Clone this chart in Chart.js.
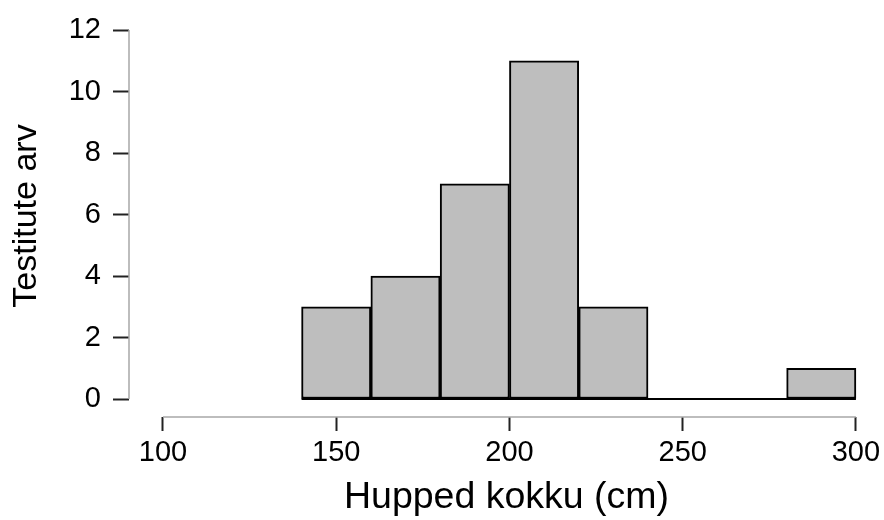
<!DOCTYPE html>
<html>
<head>
<meta charset="utf-8">
<script src="https://cdn.jsdelivr.net/npm/chart.js@4"></script>
<style>
  html, body { margin: 0; padding: 0; background: #fff; }
  #hist { display: block; }
</style>
</head>
<body>
<canvas id="hist" width="884" height="520"></canvas>
<script>
// histogram bins (cm) and counts
const binEdges = [140, 160, 180, 200, 220, 240, 260, 280, 300];
const counts = [3, 4, 7, 11, 3, 0, 0, 1];
const xTicks = [100, 150, 200, 250, 300];
const yTicks = [0, 2, 4, 6, 8, 10, 12];
const xTitle = 'Hupped kokku (cm)';
const yTitle = 'Testitute arv';

const barData = counts.map((c, i) => ({ x: (binEdges[i] + binEdges[i + 1]) / 2, y: c }));
const baseLine = [
  { x: binEdges[0], y: 0 },
  { x: binEdges[binEdges.length - 1], y: 0 }
];

const FONT = 'Liberation Sans, Arial, Helvetica, sans-serif';

// R-style detached axis lines, only spanning the tick range
const rAxes = {
  id: 'rAxes',
  afterDraw(chart) {
    const { ctx, chartArea, scales } = chart;
    const x = scales.x, y = scales.y;
    ctx.save();
    ctx.strokeStyle = '#a8a8a8';
    ctx.lineWidth = 1.5;
    ctx.beginPath();
    ctx.moveTo(chartArea.left, y.getPixelForValue(yTicks[0]));
    ctx.lineTo(chartArea.left, y.getPixelForValue(yTicks[yTicks.length - 1]));
    ctx.moveTo(x.getPixelForValue(xTicks[0]), chartArea.bottom);
    ctx.lineTo(x.getPixelForValue(xTicks[xTicks.length - 1]), chartArea.bottom);
    ctx.stroke();
    ctx.restore();
  }
};

const ctx = document.getElementById('hist').getContext('2d');
new Chart(ctx, {
  data: {
    datasets: [{
      type: 'bar',
      data: barData,
      backgroundColor: '#bebebe',
      borderColor: '#000',
      borderWidth: 2,
      borderSkipped: false,
      barPercentage: 1,
      categoryPercentage: 1
    }, {
      type: 'line',
      data: baseLine,
      borderColor: '#000',
      borderWidth: 2,
      pointRadius: 0,
      fill: false
    }]
  },
  options: {
    responsive: false,
    animation: false,
    layout: { padding: { top: 15, right: 0, left: 0, bottom: 0 } },
    plugins: { legend: { display: false }, tooltip: { enabled: false } },
    scales: {
      x: {
        type: 'linear',
        offset: false,
        min: 90.2,
        max: 308.1,
        afterBuildTicks: s => { s.ticks = xTicks.map(v => ({ value: v })); },
        afterFit: s => { s.height = 103; s.paddingLeft = 0; s.paddingRight = 0; },
        border: { display: false },
        grid: { display: true, offset: false, drawOnChartArea: false, drawTicks: true, tickLength: 14, tickColor: '#222', tickWidth: 2 },
        ticks: { color: '#000', font: { family: FONT, size: 29 }, padding: 5, maxRotation: 0, autoSkip: false },
        title: { display: true, text: xTitle, color: '#000', font: { family: FONT, size: 37.5 }, padding: 0 }
      },
      y: {
        type: 'linear',
        min: -0.585,
        max: 12.488,
        afterBuildTicks: s => { s.ticks = yTicks.map(v => ({ value: v })); },
        afterFit: s => { s.width = 129; s.paddingTop = 0; s.paddingBottom = 0; },
        border: { display: false },
        grid: { display: true, drawOnChartArea: false, drawTicks: true, tickLength: 16, tickColor: '#222', tickWidth: 2 },
        ticks: { color: '#000', font: { family: FONT, size: 29 }, padding: 12, autoSkip: false },
        title: { display: true, text: yTitle, color: '#000', font: { family: FONT, size: 34 }, padding: { top: 6, bottom: 0 } }
      }
    }
  },
  plugins: [rAxes]
});
</script>
</body>
</html>
